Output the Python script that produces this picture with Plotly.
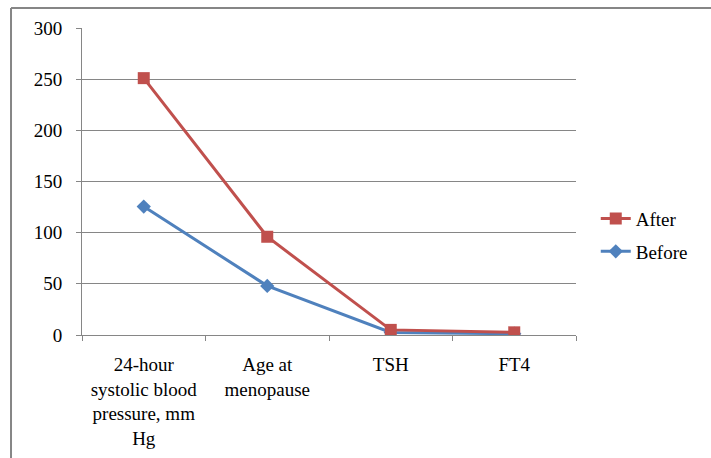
import plotly.graph_objects as go

categories = ["24-hour<br>systolic blood<br>pressure, mm<br>Hg", "Age at<br>menopause", "TSH", "FT4"]
before = [125.5, 48, 2.5, 1.2]
after = [251, 96, 5, 2.6]
y_ticks = [0, 50, 100, 150, 200, 250, 300]

fig = go.Figure()
fig.add_trace(go.Scatter(
    x=categories, y=before, name="Before", mode="lines+markers", legendgroup="b",
    legendrank=2,
    line=dict(color="#4F81BD", width=3),
    marker=dict(symbol="diamond", size=11, color="#4F81BD"),
))
fig.add_trace(go.Scatter(
    x=categories, y=after, name="After", mode="lines+markers", legendgroup="a",
    legendrank=1,
    line=dict(color="#C0504D", width=3),
    marker=dict(symbol="square", size=12, color="#C0504D"),
))

font = dict(family="Liberation Serif, Times New Roman, serif", size=19, color="#000000")
fig.update_layout(
    width=711, height=458,
    margin=dict(l=82, r=135, t=28, b=123, autoexpand=False),
    paper_bgcolor="white", plot_bgcolor="white",
    font=font,
    showlegend=True,
    legend=dict(x=1.04, y=0.325, xanchor="left", yanchor="middle",
                traceorder="grouped", font=font, bgcolor="rgba(0,0,0,0)",
                itemwidth=30, tracegroupgap=5),
    xaxis=dict(type="category", range=[-0.5, 3.5], showgrid=False,
               showline=True, linecolor="#868686", linewidth=1,
               ticks="outside", tickson="boundaries", ticklen=5, tickcolor="#868686",
               tickfont=font, zeroline=False, ticklabelstandoff=12),
    yaxis=dict(range=[0, 300], tickvals=y_ticks, showgrid=True, gridcolor="#868686",
               gridwidth=1, showline=True, linecolor="#868686", linewidth=1,
               ticks="outside", ticklen=5, tickcolor="#868686", tickfont=font,
               zeroline=False, ticklabelstandoff=10),
    shapes=[
        dict(type="line", xref="paper", yref="paper", x0=-0.1437, x1=1.3, y0=1.065, y1=1.065,
             line=dict(color="#868686", width=2)),
        dict(type="line", xref="paper", yref="paper", x0=-0.1437, x1=-0.1437, y0=1.065, y1=-0.5,
             line=dict(color="#868686", width=2)),
    ],
)

fig.write_html("out.html")
